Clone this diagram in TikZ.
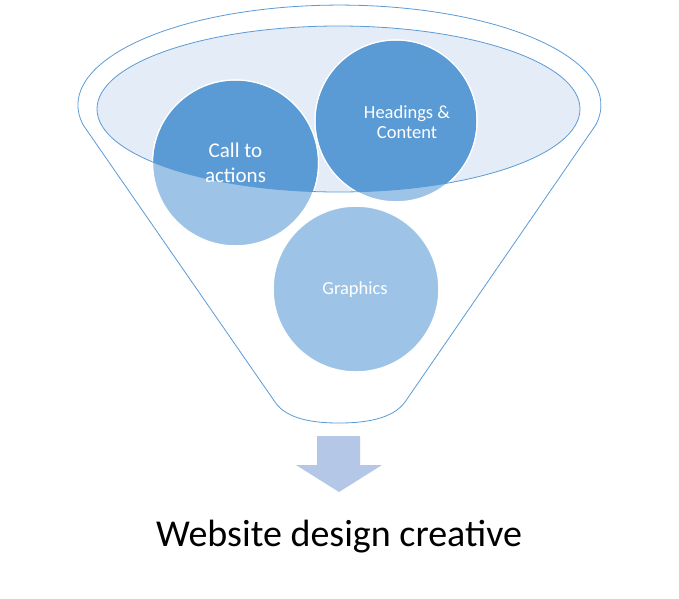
\documentclass[tikz,border=0pt]{standalone}
\usepackage{fontspec}
\setmainfont{Carlito}
\definecolor{accent}{HTML}{5B9BD5}
\definecolor{lightc}{HTML}{9DC3E6}
\definecolor{ellfill}{HTML}{E4ECF7}
\definecolor{arrowc}{HTML}{B4C7E7}
\begin{document}
\begin{tikzpicture}[x=1pt,y=-1pt,
  outline/.style={draw=accent,line width=0.8pt},
  bubble/.style={circle,minimum size=166pt,inner sep=0pt,draw=white,line width=1.5pt},
  bubtext/.style={text=white,align=center}]
\useasboundingbox[fill=white] (0,0) rectangle (679,598);
% funnel outline
\draw[outline,fill=white] (83.2,125) arc[start angle=168.5,end angle=371.5,x radius=261.5,y radius=100]
  -- (405,402) .. controls (392,420) and (362,423) .. (339,423)
  .. controls (316,423) and (287,420) .. (275,402) -- cycle;
% inner ellipse
\fill[ellfill] (338.5,109) ellipse[x radius=241.5,y radius=83];
% circles light
\node[bubble,fill=lightc] (cta) at (235.5,163) {};
\node[bubble,fill=lightc,minimum size=162pt] (hc) at (396,121) {};
\node[bubble,fill=lightc] (gr) at (356,289) {};
% dark parts inside ellipse
\begin{scope}
\clip (338.5,109) ellipse[x radius=241.5,y radius=83];
\fill[accent] (235.5,163) circle[radius=82.2];
\fill[accent] (396,121) circle[radius=80.2];
\fill[accent] (356,289) circle[radius=82.2];
\end{scope}
\draw[outline] (338.5,109) ellipse[x radius=241.5,y radius=83];
% labels
\node[bubtext,font=\fontsize{21}{25}\selectfont] (ctat) at (235.5,163) {Call to\\actions};
\node[bubtext,font=\fontsize{18.5}{20}\selectfont] (hct) at (407,122) {Headings \&\\Content};
\node[bubtext,font=\fontsize{18.5}{22}\selectfont] (grt) at (355,290) {Graphics};
% arrow
\fill[arrowc] (317,436) -- (360,436) -- (360,465) -- (382,465) -- (339,492) -- (296,465) -- (317,465) -- cycle;
\node[font=\fontsize{38}{40}\selectfont] (cap) at (339,537) {Website design creative};
\end{tikzpicture}
\end{document}
